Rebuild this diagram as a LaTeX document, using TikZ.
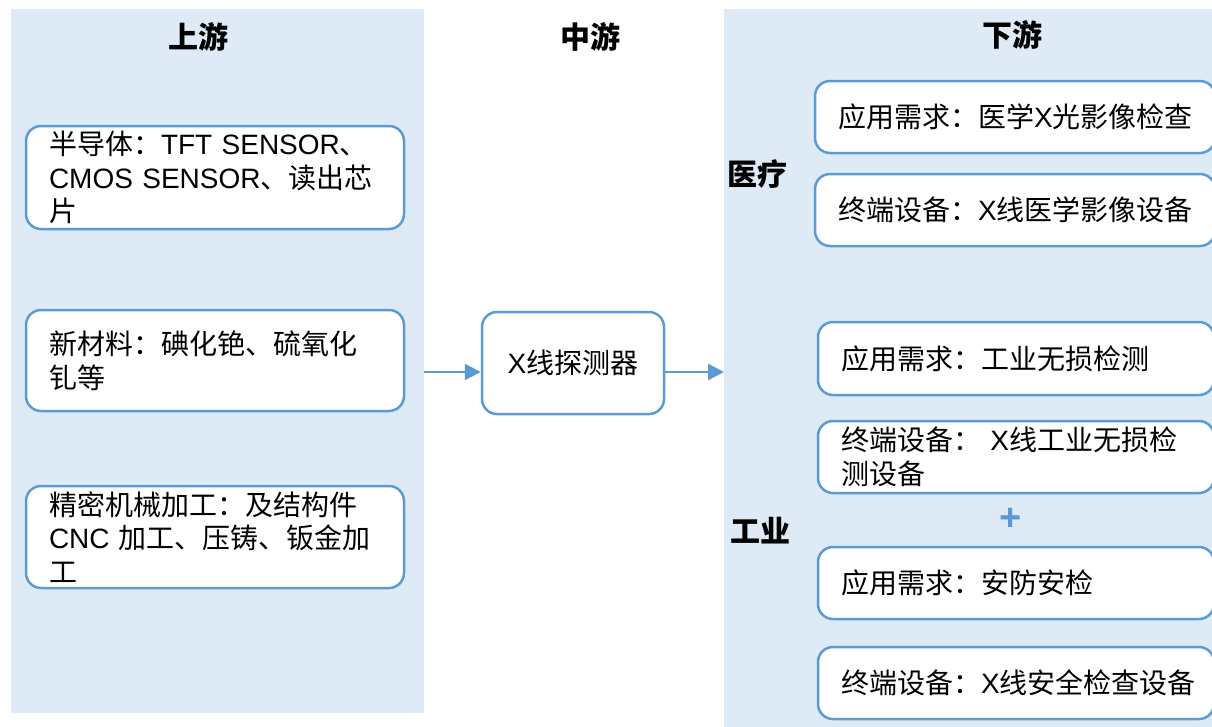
\documentclass[tikz,border=0pt]{standalone}
\usepackage{fontspec}
\setmainfont{Noto Sans CJK SC}
\newfontfamily\lat{Liberation Sans}
\usetikzlibrary{arrows.meta}
\definecolor{panel}{HTML}{DEEBF7}
\definecolor{edge}{HTML}{5B9BD5}
\tikzset{
  panelbox/.style={fill=panel, draw=none, inner sep=0pt},
  itembox/.style={draw=edge, line width=2.5pt, rounded corners=15pt, fill=white,
     inner xsep=0pt, inner ysep=0pt, font=\fontsize{28}{33.5}\selectfont, align=left},
  title/.style={font=\fontsize{30}{32}\selectfont\bfseries},
  flow/.style={draw=edge, line width=2.5pt, -{Triangle[length=16pt,width=16pt]}}
}
\begin{document}
\begin{tikzpicture}[x=1pt,y=-1pt]
\useasboundingbox (0,0) rectangle (1212,726);
\fill[white] (0,0) rectangle (1212,726);
% panels
\node[panelbox, minimum width=413pt, minimum height=704pt, anchor=north west] (panelL) at (11,9) {};
\node[panelbox, minimum width=490pt, minimum height=720pt, anchor=north west] (panelR) at (724,9) {};
% titles
\node[title] (tL) at (198,37) {上游};
\node[title] (tM) at (590,37) {中游};
\node[title] (tR) at (1012,35) {下游};
% left boxes
\node[itembox, minimum width=378pt, minimum height=103pt, text width=332pt] (b1) at (215,177.5)
  {半导体：{\lat TFT SENSOR}、\\{\lat CMOS SENSOR}、读出芯\\片};
\node[itembox, minimum width=378pt, minimum height=101pt, text width=332pt] (b2) at (215,360.5)
  {新材料：碘化铯、硫氧化\\钆等};
\node[itembox, minimum width=378pt, minimum height=102pt, text width=332pt] (b3) at (215,537)
  {精密机械加工：及结构件\\{\lat CNC} 加工、压铸、钣金加\\工};
% middle box
\node[itembox, minimum width=182pt, minimum height=102pt, align=center] (mid) at (573,363)
  {{\lat X}线探测器};
% right side labels
\node[title] (lMed) at (757,174) {医疗};
\node[title] (lInd) at (760,531) {工业};
% right boxes
\node[itembox, minimum width=400pt, minimum height=72pt, text width=354pt] (r1) at (1015,117)
  {应用需求：医学{\lat X}光影像检查};
\node[itembox, minimum width=400pt, minimum height=72pt, text width=354pt] (r2) at (1015,210)
  {终端设备：{\lat X}线医学影像设备};
\node[itembox, minimum width=396pt, minimum height=73pt, text width=350pt] (r3) at (1016,358.5)
  {应用需求：工业无损检测};
\node[itembox, minimum width=396pt, minimum height=72pt, text width=350pt] (r4) at (1016,457)
  {终端设备：\ {\lat X}线工业无损检\\测设备};
\node[itembox, minimum width=396pt, minimum height=72pt, text width=350pt] (r5) at (1016,583)
  {应用需求：安防安检};
\node[itembox, minimum width=396pt, minimum height=72pt, text width=350pt] (r6) at (1016,683)
  {终端设备：{\lat X}线安全检查设备};
\node[text=edge, font=\fontsize{38}{38}\selectfont\lat\bfseries] (plus) at (1011,519) {+};
% arrows
\coordinate (a1) at (panelL.east |- 0,372);
\coordinate (a2) at (panelR.west |- 0,372);
\draw[flow] (a1) -- (mid.west |- a1);
\draw[flow] (mid.east |- a2) -- (a2);
\end{tikzpicture}
\end{document}
